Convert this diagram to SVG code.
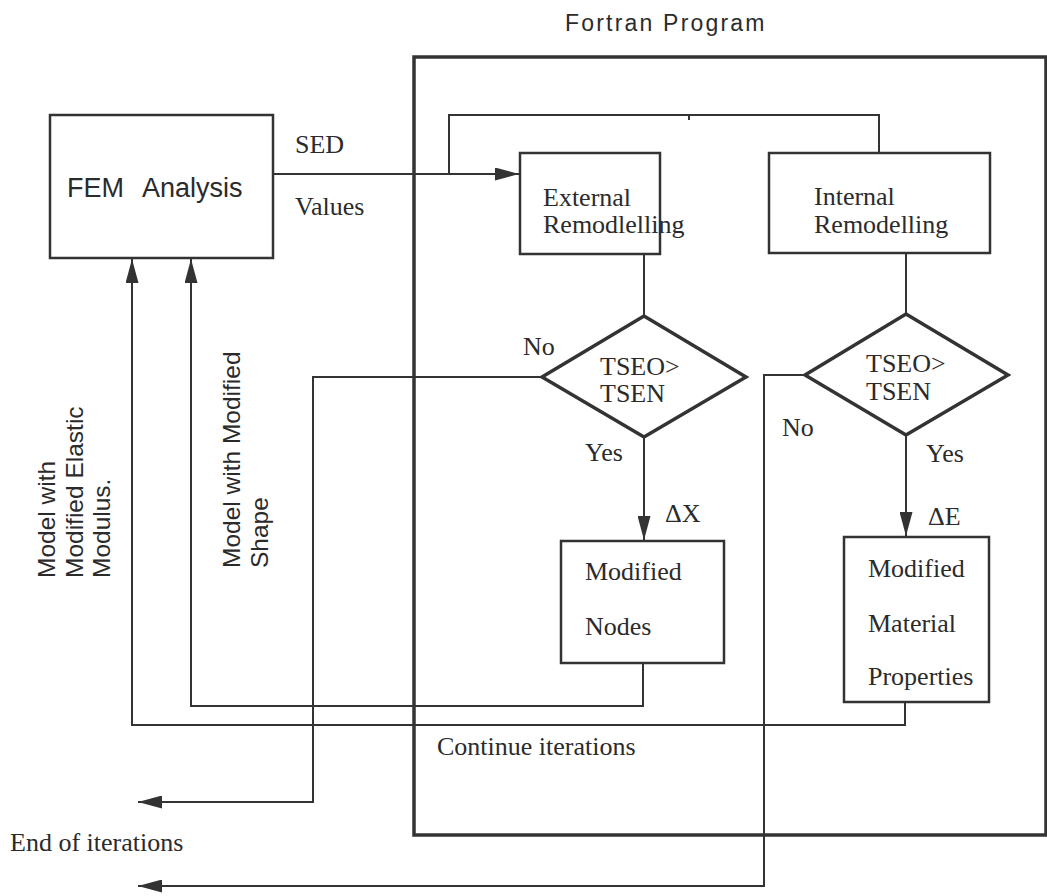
<svg xmlns="http://www.w3.org/2000/svg" width="1047" height="896" viewBox="0 0 1047 896">
<defs>
<style>
.ln{fill:none;stroke:#333;stroke-width:2}
.bx{fill:none;stroke:#333;stroke-width:2.5}
.dm{fill:none;stroke:#333;stroke-width:3.5}
.fr{fill:none;stroke:#333;stroke-width:3.5}
.sf{font-family:"Liberation Serif","Times New Roman",serif;font-size:26px;fill:#2b2b2b}
.ss{font-family:"Liberation Sans",Arial,sans-serif;fill:#2b2b2b}
</style>
<marker id="ah" markerUnits="userSpaceOnUse" markerWidth="24" markerHeight="13" refX="24" refY="6.5" orient="auto">
<path d="M0,0 L24,6.5 L0,13 Z" fill="#333"/>
</marker>
</defs>
<rect width="1047" height="896" fill="#fff"/>

<g id="fortran">
<rect class="fr" x="414" y="57" width="632" height="778"/>
<text class="ss" x="565" y="31" font-size="23" letter-spacing="2.2" fill="#444">Fortran Program</text>
</g>

<g id="fem">
<rect class="bx" x="50" y="115" width="223" height="143"/>
<text class="ss" y="197" font-size="27"><tspan x="67">FEM</tspan> <tspan x="142">Analysis</tspan></text>
</g>

<g id="external">
<rect class="bx" x="520" y="153" width="140" height="101"/>
<text class="sf" x="543" y="206">External</text>
<text class="sf" x="543" y="233">Remodlelling</text>
</g>

<g id="internal">
<rect class="bx" x="769" y="153" width="221" height="100"/>
<text class="sf" x="814" y="205">Internal</text>
<text class="sf" x="814" y="233">Remodelling</text>
</g>

<g id="decision1">
<polygon class="dm" points="644,316 746,377 644,437 542,377"/>
<text class="sf" x="600" y="375" font-size="28">TSEO&gt;</text>
<text class="sf" x="600" y="402" font-size="28">TSEN</text>
</g>

<g id="decision2">
<polygon class="dm" points="906,314 1008,375 906,435 805,375"/>
<text class="sf" x="866" y="372" font-size="28">TSEO&gt;</text>
<text class="sf" x="866" y="400" font-size="28">TSEN</text>
</g>

<g id="nodes">
<rect class="bx" x="561" y="541" width="163" height="122"/>
<text class="sf" x="585" y="580">Modified</text>
<text class="sf" x="585" y="635">Nodes</text>
</g>

<g id="material">
<rect class="bx" x="844" y="537" width="145" height="165"/>
<text class="sf" x="868" y="577">Modified</text>
<text class="sf" x="868" y="632">Material</text>
<text class="sf" x="868" y="685">Properties</text>
</g>

<g id="connectors">
<path class="ln" d="M273,174 H519" marker-end="url(#ah)"/>
<path class="ln" d="M449,174 V115 H879 V153"/>
<path class="ln" d="M689,115 V120"/>
<path class="ln" d="M644,254 V316"/>
<path class="ln" d="M906,253 V314"/>
<path class="ln" d="M644,437 V540" marker-end="url(#ah)"/>
<path class="ln" d="M906,435 V536" marker-end="url(#ah)"/>
<path class="ln" d="M542,377 H313 V802 H138" marker-end="url(#ah)"/>
<path class="ln" d="M805,375 H764 V886 H138" marker-end="url(#ah)"/>
<path class="ln" d="M643,663 V706 H191 V259" marker-end="url(#ah)"/>
<path class="ln" d="M905,702 V725 H132 V259" marker-end="url(#ah)"/>
</g>

<g id="labels">
<text class="sf" x="295" y="153">SED</text>
<text class="sf" x="295" y="215">Values</text>
<text class="sf" x="523" y="355">No</text>
<text class="sf" x="782" y="436">No</text>
<text class="sf" x="585" y="461">Yes</text>
<text class="sf" x="926" y="462">Yes</text>
<text class="sf" x="665" y="522">ΔX</text>
<text class="sf" x="928" y="525">ΔE</text>
<text class="sf" x="437" y="755">Continue iterations</text>
<text class="sf" x="10" y="851">End of iterations</text>
<text class="ss" font-size="24.5" transform="translate(55,578) rotate(-90)">Model with<tspan x="0" dy="27.5">Modified Elastic</tspan><tspan x="0" dy="27.5">Modulus.</tspan></text>
<text class="ss" font-size="24.5" transform="translate(240,568) rotate(-90)">Model with Modified<tspan x="0" dy="28">Shape</tspan></text>
</g>
</svg>
